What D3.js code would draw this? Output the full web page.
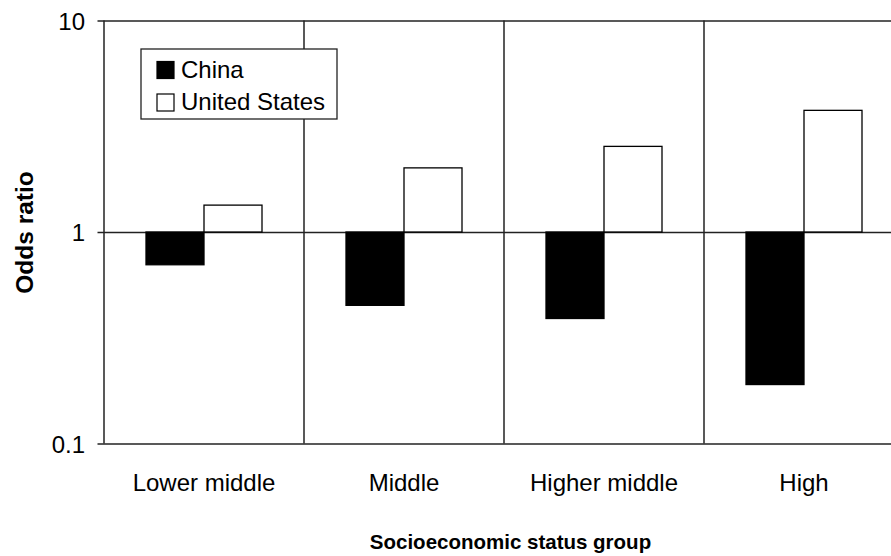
<!DOCTYPE html>
<html><head><meta charset="utf-8">
<script src="https://cdn.jsdelivr.net/npm/d3@7"></script>
<style>body{margin:0;background:#fff}svg{display:block}text{font-family:"Liberation Sans",Arial,sans-serif;fill:#000}</style>
</head><body><svg id="c" width="891" height="556"></svg>
<script>
const categories = ["Lower middle", "Middle", "Higher middle", "High"];
const seriesNames = ["China", "United States"];
const china = [0.70, 0.45, 0.39, 0.19];
const us = [1.34, 2.01, 2.54, 3.76];
const yTicks = [0.1, 1, 10];
const yTickLabels = ["0.1", "1", "10"];

(function () {
const svg = d3.select("#c");
const FONT = "Liberation Sans, Arial, sans-serif";
const mLeft = 104, mRight = 904, mTop = 20.5, mBottom = 443.5;
const x = d3.scaleBand().domain(categories).range([mLeft, mRight]).paddingInner(0).paddingOuter(0);
const groupW = x.bandwidth() * 0.58;
const xsub = d3.scaleBand().domain(seriesNames).range([(x.bandwidth() - groupW) / 2, (x.bandwidth() + groupW) / 2]);
const y = d3.scaleLog().domain([0.1, 10]).range([mBottom, mTop]);
const lineCol = "#222";

const g = svg.append("g");
g.selectAll("line.v").data(categories).join("line")
  .attr("x1", d => x(d)).attr("x2", d => x(d)).attr("y1", y(10)).attr("y2", y(0.1))
  .attr("stroke", lineCol).attr("stroke-width", 1.5);

const yAxis = d3.axisLeft(y).tickValues(yTicks).tickFormat((d, i) => yTickLabels[i])
  .tickSize(-(mRight - mLeft)).tickSizeOuter(0);
const ag = svg.append("g").attr("transform", `translate(${mLeft},0)`).call(yAxis);
ag.select(".domain").remove();
ag.selectAll(".tick line").attr("stroke", lineCol).attr("stroke-width", 1.5).attr("x1", -6.5);
ag.selectAll(".tick text").attr("font-size", 24).attr("font-family", FONT).attr("fill", "#000")
  .attr("x", -19).attr("dy", "0.36em");

const data = [];
categories.forEach((c, i) => {
  data.push({c, s: "China", v: china[i]});
  data.push({c, s: "United States", v: us[i]});
});
g.raise();
g.selectAll("rect.bar").data(data).join("rect").attr("class", "bar")
  .attr("x", d => x(d.c) + xsub(d.s))
  .attr("width", xsub.bandwidth())
  .attr("y", d => Math.min(y(d.v), y(1)))
  .attr("height", d => Math.abs(y(d.v) - y(1)))
  .attr("fill", d => d.s === "China" ? "#000" : "#fff")
  .attr("stroke", "#000").attr("stroke-width", 1.3);

const xAxis = d3.axisBottom(x).tickSize(0);
const xg = svg.append("g").attr("transform", `translate(0,${mBottom})`).call(xAxis);
xg.select(".domain").remove();
xg.selectAll(".tick text").attr("font-size", 24).attr("font-family", FONT).attr("fill", "#000")
  .attr("y", 491 - mBottom).attr("dy", 0);

svg.append("text").attr("x", 510.5).attr("y", 549).attr("text-anchor", "middle")
  .attr("font-size", 20.5).attr("font-weight", "bold").text("Socioeconomic status group");
svg.append("text").attr("transform", `translate(33,232.5) rotate(-90)`).attr("text-anchor", "middle")
  .attr("font-size", 24.5).attr("font-weight", "bold").text("Odds ratio");

const lg = svg.append("g");
lg.append("rect").attr("x", 141).attr("y", 49).attr("width", 196).attr("height", 70)
  .attr("fill", "#fff").attr("stroke", lineCol).attr("stroke-width", 1.3);
seriesNames.forEach((s, i) => {
  const yy = 70 + i * 32.5;
  lg.append("rect").attr("x", 157).attr("y", yy - 8.5).attr("width", 17).attr("height", 17)
    .attr("fill", i === 0 ? "#000" : "#fff").attr("stroke", "#000").attr("stroke-width", 1.2);
  lg.append("text").attr("x", 181).attr("y", yy + 7.5).attr("font-size", 24).text(s);
});
})();
</script></body></html>
